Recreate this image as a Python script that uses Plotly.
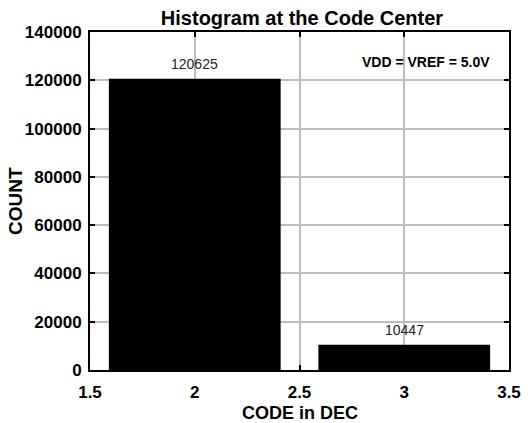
import plotly.graph_objects as go

codes = [2, 3]
counts = [120625, 10447]
x_ticks = [1.5, 2, 2.5, 3, 3.5]
y_ticks = [0, 20000, 40000, 60000, 80000, 100000, 120000, 140000]

FONT = "Liberation Sans, Arial, sans-serif"

fig = go.Figure(go.Bar(
    x=codes, y=counts, width=0.82,
    marker=dict(color="black", line=dict(width=0)),
    cliponaxis=False,
))

# count labels above the bars
for c, n in zip(codes, counts):
    fig.add_annotation(x=c, y=n, text=str(n), showarrow=False, yanchor="bottom", yshift=5,
                       font=dict(family=FONT, size=14, color="#222"))

axis_font = dict(family=FONT, size=17, color="black")
fig.update_layout(
    width=529, height=423,
    margin=dict(l=90, r=20, t=32, b=53, autoexpand=False),
    plot_bgcolor="white", paper_bgcolor="white",
    showlegend=False,
    title=dict(text="<b>Histogram at the Code Center</b>", x=302 / 529, xanchor="center",
               y=1 - 18 / 423, yanchor="middle",
               font=dict(family=FONT, size=20, color="black")),
    font=dict(family=FONT, color="black"),
)
common = dict(
    tickfont=axis_font, ticks="inside", ticklen=5, tickwidth=2, tickcolor="black",
    showline=True, linewidth=2, linecolor="black", mirror="ticks",
    showgrid=True, gridcolor="#bdbdbd", gridwidth=2, zeroline=False, automargin=False,
)
fig.update_xaxes(range=[1.5, 3.5], tickvals=x_ticks, ticklabelstandoff=6,
                 ticktext=[f"<b>{t:g}</b>" for t in x_ticks], **common)
fig.update_yaxes(range=[0, 140000], tickvals=y_ticks, ticklabelstandoff=3,
                 ticktext=[f"<b>{t}</b>" for t in y_ticks], **common)

fig.add_annotation(text="<b>CODE in DEC</b>", xref="paper", yref="paper",
                   x=0.5, y=-0.127, xanchor="center", yanchor="middle", showarrow=False,
                   font=dict(family=FONT, size=18, color="black"))
fig.add_annotation(text="<b>COUNT</b>", xref="paper", yref="paper", textangle=-90,
                   x=-0.179, y=0.5, xanchor="center", yanchor="middle", showarrow=False,
                   font=dict(family=FONT, size=19, color="black"))
fig.add_annotation(
    text="<b>VDD = VREF = 5.0V</b>", xref="paper", yref="paper",
    x=0.959, y=0.911, xanchor="right", yanchor="middle", showarrow=False,
    font=dict(family=FONT, size=14, color="black"),
)

# the page's default 8px body margin would shift the chart out of the window
fig.write_html("out.html", config={"displayModeBar": False},
               post_script="document.body.style.margin='0';")
